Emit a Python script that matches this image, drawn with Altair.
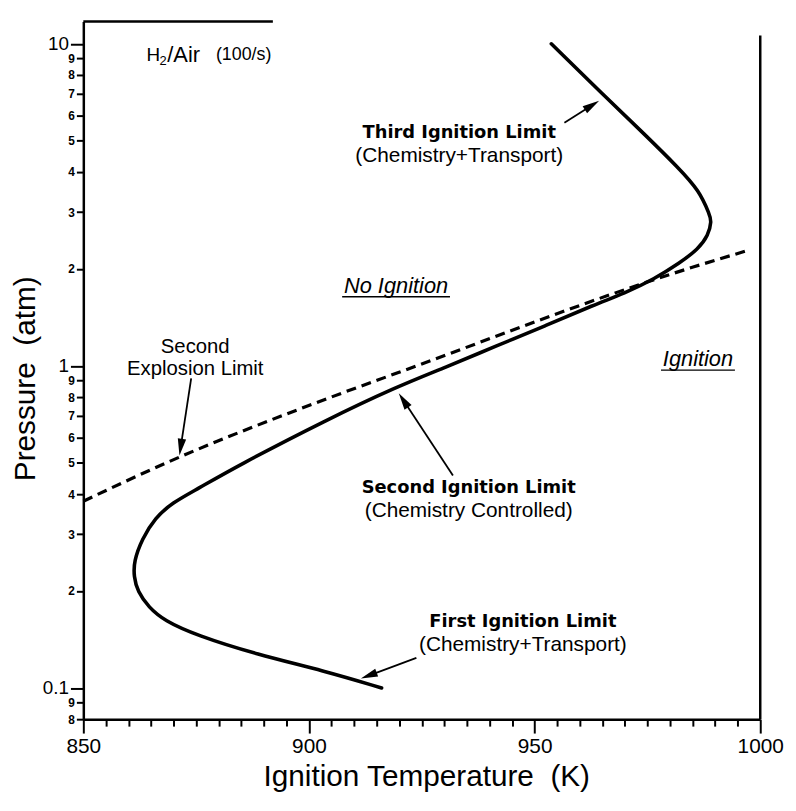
import math
import altair as alt
import pandas as pd

# ---------------- data ----------------
solid_T = [953.7, 965.2, 974.6, 981.8, 986.5, 988.8, 989.2, 988.5, 986.2, 982.2,
           976.5, 969.9, 963.3, 952.3, 941.3, 930.3, 919.3, 903.9, 884.0, 875.2,
           869.7, 865.9, 863.0, 861.2, 861.2, 862.0, 864.5, 867.9, 874.9, 888.5,
           903.4, 916.1]
solid_P = [10.0, 6.95, 5.20, 4.13, 3.50, 2.94, 2.82, 2.54, 2.30, 2.09,
           1.86, 1.68, 1.55, 1.33, 1.15, 0.99, 0.86, 0.68, 0.488, 0.414,
           0.376, 0.337, 0.290, 0.247, 0.222, 0.1995, 0.178, 0.162, 0.146, 0.127,
           0.113, 0.100]
dashed_T = [850.0, 868.4, 903.9, 919.5, 985.3, 997.6]
dashed_P = [0.38, 0.50, 0.79, 0.95, 2.03, 2.29]

x_ticks = list(range(850, 1001, 5))
y_ticks = [0.08, 0.09, 0.1, 0.2, 0.3, 0.4, 0.5, 0.6, 0.7, 0.8, 0.9,
           1, 2, 3, 4, 5, 6, 7, 8, 9, 10]

arrow_tail_T = [956.6, 873.9, 931.9, 923.8]
arrow_tail_P = [5.69, 0.914, 0.457, 0.124]
arrow_tip_T = [964.3, 871.3, 919.9, 911.5]
arrow_tip_P = [6.65, 0.527, 0.822, 0.107]

bold_labels = ["Third Ignition Limit", "Second Ignition Limit", "First Ignition Limit"]
bold_T = [933.3, 935.4, 947.4]
bold_P = [5.29, 0.419, 0.160]
sub_labels = ["(Chemistry+Transport)", "(Chemistry Controlled)", "(Chemistry+Transport)"]
sub_T = [933.3, 935.4, 947.4]
sub_P = [4.48, 0.353, 0.136]
expl_labels = ["Second", "Explosion Limit"]
expl_T = [874.8, 874.8]
expl_P = [1.14, 0.975]
region_labels = ["No Ignition", "Ignition"]
region_T = [919.3, 986.2]
region_P = [1.77, 1.05]
underline_P = [1.64, 0.97]

# ---------------- geometry ----------------
W, H = 683, 704
X0, X1 = 850.0, 1000.0
Y0, Y1 = 0.08, 11.73
L0, L1 = math.log10(Y0), math.log10(Y1)
FONT = "Liberation Sans"
REGION_SIZE = 22
IGNITION_EM = 3.224          # advance width of "Ignition" in em (Arial metrics)
NO_EM = 1.556                # advance width of "No " in em


def to_px(T, P):
    return (T - X0) / (X1 - X0) * W, H * (1 - (math.log10(P) - L0) / (L1 - L0))


def to_data(px, py):
    return X0 + px / W * (X1 - X0), 10 ** (L0 + (1 - py / H) * (L1 - L0))


HEAD = 17.0
shaft_rows, head_rows = [], []
for tT, tP, hT, hP in zip(arrow_tail_T, arrow_tail_P, arrow_tip_T, arrow_tip_P):
    ax, ay = to_px(tT, tP)
    bx, by = to_px(hT, hP)
    d = math.hypot(bx - ax, by - ay)
    ux, uy = (bx - ax) / d, (by - ay) / d
    cx, cy = bx - ux * HEAD / 2, by - uy * HEAD / 2
    cT, cP = to_data(cx, cy)
    ang = math.degrees(math.atan2(ux, -uy)) % 360
    shaft_rows.append({"T": tT, "P": tP, "T2": cT, "P2": cP})
    head_rows.append({"T": cT, "P": cP, "ang": ang})

# underlines under the italic region words, sized from the text width
under_rows = []
for lab, T, P in zip(region_labels, region_T, underline_P):
    em = IGNITION_EM + (NO_EM if lab.startswith("No") else 0)
    half = em * REGION_SIZE / 2 / W * (X1 - X0)
    under_rows.append({"T": T - half - 0.4, "T2": T + half + 0.4, "P": P, "P2": P})

solid_df = pd.DataFrame({"T": solid_T, "P": solid_P, "o": list(range(len(solid_T)))})
dashed_df = pd.DataFrame({"T": dashed_T, "P": dashed_P})
frame_df = pd.DataFrame({"T": [1000.0, 850.0], "P": [0.08, Y1],
                         "T2": [1000.0, 892.0], "P2": [10.6, Y1]})
under_df = pd.DataFrame(under_rows)

xscale = alt.Scale(domain=[X0, X1], nice=False, zero=False)
yscale = alt.Scale(type="log", domain=[Y0, Y1], nice=False)

xaxis = alt.Axis(
    values=x_ticks, grid=False, labelFlush=False, labelOverlap=False,
    labelExpr="datum.value % 50 === 0 ? format(datum.value, 'd') : ''",
    tickSize={"condition": {"test": "datum.value % 50 === 0", "value": 14}, "value": 7},
    tickWidth=2, tickColor="black", domainColor="black", domainWidth=2.5,
    labelFont=FONT, labelFontSize=21, labelColor="black", labelPadding=3,
    title="Ignition Temperature\u00a0 (K)", titleFont=FONT, titleFontSize=30,
    titleFontWeight="normal", titleColor="black", titleX=346, titleY=58,
    titleAlign="center", titleBaseline="middle",
)
major_test = "datum.value === 10 || datum.value === 1 || datum.value === 0.1"
yaxis = alt.Axis(
    values=y_ticks, grid=False, labelOverlap=False, labelFlush=False,
    labelExpr=("datum.value >= 10 ? '10' : datum.value >= 1 ? format(datum.value, '.0f') : "
               "datum.value >= 0.1 ? (datum.value < 0.15 ? '0.1' : format(datum.value * 10, '.0f')) : "
               "format(datum.value * 100, '.0f')"),
    tickSize={"condition": {"test": major_test, "value": 13}, "value": 7},
    labelFontSize={"condition": {"test": major_test, "value": 19}, "value": 12},
    labelFontWeight={"condition": {"test": major_test, "value": "normal"}, "value": "bold"},
    tickWidth=2, tickColor="black", domainColor="black", domainWidth=2.5,
    labelFont=FONT, labelColor="black", labelPadding=2,
    title="Pressure\u00a0 (atm)", titleFont=FONT, titleFontSize=30,
    titleFontWeight="normal", titleColor="black", titleAngle=270,
    titleX=-58, titleY=360, titleAlign="center", titleBaseline="middle",
)


def X(f="T"):
    return alt.X(f"{f}:Q", scale=xscale, axis=xaxis)


def Y(f="P"):
    return alt.Y(f"{f}:Q", scale=yscale, axis=yaxis)


solid = alt.Chart(solid_df).mark_line(
    color="black", strokeWidth=3.6, interpolate="basis", strokeCap="round"
).encode(x=X(), y=Y(), order="o:Q")

dashed = alt.Chart(dashed_df).mark_line(
    color="black", strokeWidth=3.2, strokeDash=[10, 6], interpolate="monotone"
).encode(x=X(), y=Y())

frame = alt.Chart(frame_df).mark_rule(color="black", strokeWidth=2.5).encode(
    x=X(), y=Y(), x2="T2:Q", y2="P2:Q")

shafts = alt.Chart(pd.DataFrame(shaft_rows)).mark_rule(color="black", strokeWidth=1.8).encode(
    x=X(), y=Y(), x2="T2:Q", y2="P2:Q")

heads = alt.Chart(pd.DataFrame(head_rows)).mark_point(
    shape="M0,-1L0.5,1L-0.5,1Z", filled=True, size=HEAD ** 2, color="black",
    opacity=1, strokeWidth=0
).encode(x=X(), y=Y(), angle=alt.Angle("ang:Q", scale=None))

bold_txt = alt.Chart(pd.DataFrame({"T": bold_T, "P": bold_P, "label": bold_labels})).mark_text(
    font="DejaVu Sans", fontSize=18, fontWeight="bold", color="black", align="center",
    baseline="middle"
).encode(x=X(), y=Y(), text="label:N")

sub_txt = alt.Chart(pd.DataFrame({"T": sub_T, "P": sub_P, "label": sub_labels})).mark_text(
    font=FONT, fontSize=21, color="black", align="center", baseline="middle"
).encode(x=X(), y=Y(), text="label:N")

expl_txt = alt.Chart(pd.DataFrame({"T": expl_T, "P": expl_P, "label": expl_labels})).mark_text(
    font=FONT, fontSize=20.5, color="black", align="center", baseline="middle"
).encode(x=X(), y=Y(), text="label:N")

region_txt = alt.Chart(pd.DataFrame({"T": region_T, "P": region_P, "label": region_labels})).mark_text(
    font=FONT, fontSize=REGION_SIZE, fontStyle="italic", color="black", align="center",
    baseline="middle"
).encode(x=X(), y=Y(), text="label:N")

underlines = alt.Chart(under_df).mark_rule(color="black", strokeWidth=1.5).encode(
    x=X(), y=Y(), x2="T2:Q", y2="P2:Q")

h2_df = pd.DataFrame({"T": [864.0], "P": [9.2]})


def h2_part(txt, size, dx, dy=0):
    return alt.Chart(h2_df).mark_text(
        text=txt, font=FONT, fontSize=size, color="black", align="left",
        baseline="middle", dx=dx, dy=dy
    ).encode(x=X(), y=Y())


h2 = [h2_part("H", 19, 0), h2_part("2", 13, 13, 6), h2_part("/Air", 22, 21),
      h2_part("(100/s)", 18, 70)]

chart = alt.layer(
    frame, dashed, solid, shafts, heads, bold_txt, sub_txt, expl_txt, region_txt,
    underlines, *h2
).properties(
    width=W, height=H,
    autosize=alt.AutoSizeParams(type="none"),
    padding={"left": 76, "top": 10, "right": 28, "bottom": 81},
    background="white",
).configure_view(stroke=None)

chart.save("out.html", embed_options={"renderer": "svg", "actions": False})
